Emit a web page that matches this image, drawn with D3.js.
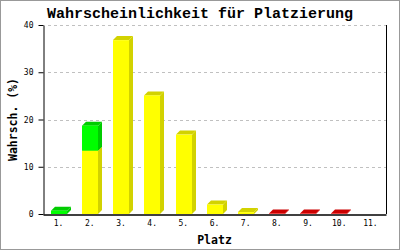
<!DOCTYPE html>
<html lang="de">
<head>
<meta charset="UTF-8">
<title>Wahrscheinlichkeit für Platzierung</title>
<style>
    body { margin: 0; background: #fff; }
    svg { display: block; }
    .tick text { font-family: 'DejaVu Sans Mono', monospace; font-size: 8px; fill: #000; }
</style>
</head>
<body>
<svg id="chart" width="400" height="250"></svg>
<script src="https://d3js.org/d3.v7.min.js"></script>
<script>
// places on the x axis
const places = ["1.", "2.", "3.", "4.", "5.", "6.", "7.", "8.", "9.", "10.", "11."];
// stacked series, bottom to top (percent)
const yellowVals = [0, 13.4, 36.8, 25.1, 16.8, 2.0, 0.4, 0, 0, 0, 0];
const greenVals  = [0.7, 5.3, 0, 0, 0, 0, 0, 0, 0, 0, 0];
const redVals    = [0, 0, 0, 0, 0, 0, 0, 0.1, 0.1, 0.1, 0];
const yTicks = [0, 10, 20, 30, 40];

const seriesDefs = [
    { key: "yellow", values: yellowVals, front: "#ffff00", dark: "#d2d200" },
    { key: "green",  values: greenVals,  front: "#00ff00", dark: "#00cc00" },
    { key: "red",    values: redVals,    front: "#ff0000", dark: "#cc0000" }
];

const svg = d3.select("#chart");
const W = 400, H = 250;
const margin = { left: 43, right: 14, top: 25, bottom: 36 };
const depth = 4;

// frame
svg.append("rect")
    .attr("x", 0).attr("y", 0).attr("width", W).attr("height", H)
    .attr("fill", "#fff").attr("stroke", "#999").attr("stroke-width", 2);

const x = d3.scaleBand()
    .domain(places)
    .range([margin.left, W - margin.right])
    .paddingInner(0.5).paddingOuter(0.25);

const y = d3.scaleLinear()
    .domain([0, 40])
    .range([H - margin.bottom, margin.top]);

// grid
svg.append("g")
    .selectAll("line")
    .data(yTicks.filter(d => d > 0))
    .join("line")
    .attr("x1", margin.left + 5).attr("x2", W - margin.right)
    .attr("y1", d => Math.round(y(d)) + 0.5).attr("y2", d => Math.round(y(d)) + 0.5)
    .attr("stroke", "#c0c0c0")
    .attr("stroke-dasharray", "3,3");

// stack the series
const table = places.map((p, i) => {
    const row = { place: p };
    seriesDefs.forEach(s => row[s.key] = s.values[i]);
    return row;
});
const stacked = d3.stack().keys(seriesDefs.map(s => s.key))(table);

const bars = svg.append("g");
stacked.forEach((layer, li) => {
    const s = seriesDefs[li];
    layer.forEach((seg, i) => {
        if (seg[1] - seg[0] <= 0) return;
        const x0 = Math.round(x(places[i]));
        const x1 = x0 + Math.round(x.bandwidth());
        const yTop = y(seg[1]), yBot = y(seg[0]);
        // side
        bars.append("polygon")
            .attr("points", [[x1, yBot], [x1 + depth, yBot - depth], [x1 + depth, yTop - depth], [x1, yTop]].join(" "))
            .attr("fill", s.dark);
        // top
        bars.append("polygon")
            .attr("points", [[x0, yTop], [x0 + depth, yTop - depth], [x1 + depth, yTop - depth], [x1, yTop]].join(" "))
            .attr("fill", s.dark);
        // front
        bars.append("rect")
            .attr("x", x0).attr("y", yTop)
            .attr("width", x1 - x0).attr("height", yBot - yTop)
            .attr("fill", s.front);
    });
});

// axes
const yAxis = svg.append("g")
    .attr("transform", `translate(${margin.left + 0.5},0)`)
    .call(d3.axisLeft(y).tickValues(yTicks).tickSize(5).tickPadding(5).tickSizeOuter(0));
yAxis.select(".domain").attr("stroke", "#000");

const xAxis = svg.append("g")
    .attr("transform", `translate(0,${H - margin.bottom + 0.5})`)
    .call(d3.axisBottom(x).tickSize(0).tickPadding(6).tickSizeOuter(0));
xAxis.select(".domain").attr("stroke", "#000").attr("stroke-width", 1.5);

// right border line of plot
svg.append("line")
    .attr("x1", W - margin.right + 0.5).attr("x2", W - margin.right + 0.5)
    .attr("y1", margin.top).attr("y2", H - margin.bottom)
    .attr("stroke", "#000");

// title & labels
svg.append("text")
    .attr("x", W / 2).attr("y", 18)
    .attr("text-anchor", "middle")
    .style("font-family", "'Liberation Mono', monospace")
    .style("font-weight", "bold").style("font-size", "15px")
    .text("Wahrscheinlichkeit für Platzierung");

svg.append("text")
    .attr("x", (margin.left + W - margin.right) / 2).attr("y", 244)
    .attr("text-anchor", "middle")
    .style("font-family", "'DejaVu Sans Mono', monospace")
    .style("font-weight", "bold").style("font-size", "11.5px")
    .text("Platz");

svg.append("text")
    .attr("transform", `translate(17,${(margin.top + H - margin.bottom) / 2}) rotate(-90)`)
    .attr("text-anchor", "middle")
    .style("font-family", "'DejaVu Sans Mono', monospace")
    .style("font-weight", "bold").style("font-size", "11.5px")
    .text("Wahrsch. (%)");
</script>
</body>
</html>
